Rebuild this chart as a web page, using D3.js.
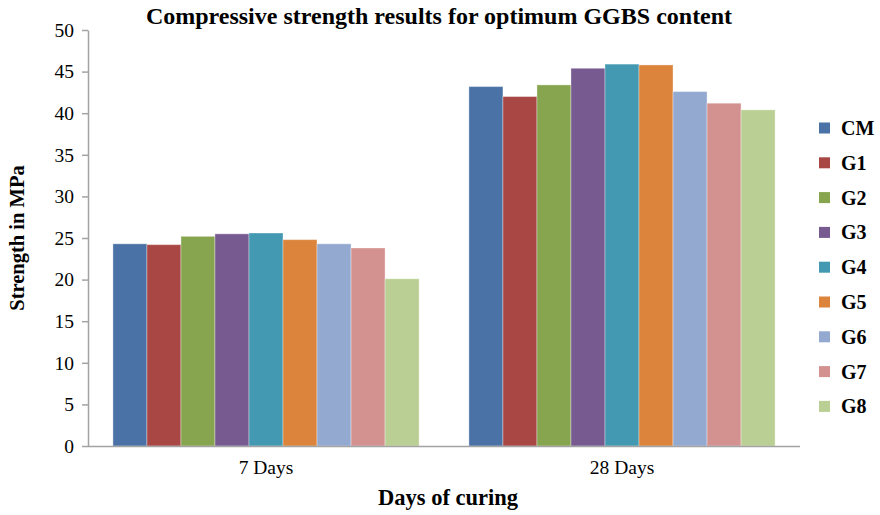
<!DOCTYPE html>
<html>
<head>
<meta charset="utf-8">
<script src="https://cdn.jsdelivr.net/npm/d3@7/dist/d3.min.js"></script>
<style>
  html, body { margin: 0; padding: 0; background: #fff; }
  svg { display: block; font-family: "Liberation Serif", "Times New Roman", serif; }
</style>
</head>
<body>
<svg id="chart" width="880" height="515"></svg>
<script>
// Curing ages on the x axis
const categories = ["7 Days", "28 Days"];
// Mix designations
const series = ["CM", "G1", "G2", "G3", "G4", "G5", "G6", "G7", "G8"];
// Compressive strength (MPa) per mix, at 7 and 28 days
const strength7 = [24.3, 24.2, 25.2, 25.5, 25.6, 24.8, 24.3, 23.8, 20.1];
const strength28 = [43.2, 42.0, 43.4, 45.4, 45.9, 45.8, 42.6, 41.2, 40.4];
const yTicks = [0, 5, 10, 15, 20, 25, 30, 35, 40, 45, 50];
const colors = ["#4a72a6", "#a84744", "#87a54f", "#765a90", "#4399b1",
                "#dc843c", "#93a9d0", "#d39190", "#b9cf93"];

const values = [strength7, strength28];
const svg = d3.select("#chart");
const plot = { left: 88, right: 800, top: 30, bottom: 446 };
const axisColor = "#a3a3a3";

const x0 = d3.scaleBand().domain(categories)
  .range([plot.left, plot.right]).paddingInner(0.14).paddingOuter(0.07);
const x1 = d3.scaleBand().domain(series).range([0, x0.bandwidth()]).padding(0);
const y = d3.scaleLinear().domain([0, 50]).range([plot.bottom, plot.top]);
const color = d3.scaleOrdinal().domain(series).range(colors);

// Bars
const groups = svg.append("g").selectAll("g")
  .data(categories).join("g")
  .attr("transform", d => `translate(${x0(d)},0)`);
groups.selectAll("rect")
  .data((c, ci) => series.map((s, si) => ({ s, v: values[ci][si] })))
  .join("rect")
  .attr("x", d => x1(d.s))
  .attr("y", d => y(d.v))
  .attr("width", x1.bandwidth())
  .attr("height", d => y(0) - y(d.v))
  .attr("fill", d => color(d.s))
  .attr("stroke", "rgba(255,255,255,0.35)")
  .attr("stroke-width", 1);

// Y axis
const yAxis = svg.append("g")
  .attr("transform", `translate(${plot.left},0)`)
  .call(d3.axisLeft(y).tickValues(yTicks).tickSize(6).tickPadding(8).tickSizeOuter(0));
yAxis.select(".domain").attr("stroke", axisColor).attr("stroke-width", 1.5);
yAxis.selectAll(".tick line").attr("stroke", axisColor).attr("stroke-width", 1.5);
yAxis.selectAll(".tick text")
  .attr("fill", "#000").style("font-size", "19.5px")
  .style("font-family", "'Liberation Serif', serif");

// X axis
const xAxis = svg.append("g")
  .attr("transform", `translate(0,${plot.bottom})`)
  .call(d3.axisBottom(x0).tickSize(0).tickPadding(14).tickSizeOuter(0));
xAxis.select(".domain").attr("stroke", axisColor).attr("stroke-width", 1.5)
  .attr("d", `M${plot.left},0.5H${plot.right}`);
xAxis.selectAll(".tick text")
  .attr("fill", "#000").style("font-size", "19.5px")
  .style("font-family", "'Liberation Serif', serif");

// Titles
svg.append("text")
  .attr("x", 439).attr("y", 24)
  .attr("text-anchor", "middle")
  .style("font-size", "24px").style("font-weight", "bold")
  .text("Compressive strength results for optimum GGBS content");

svg.append("text")
  .attr("x", 448).attr("y", 505)
  .attr("text-anchor", "middle")
  .style("font-size", "22.5px").style("font-weight", "bold")
  .text("Days of curing");

svg.append("text")
  .attr("transform", "translate(24,238) rotate(-90)")
  .attr("text-anchor", "middle")
  .style("font-size", "20.5px").style("font-weight", "bold")
  .text("Strength in MPa");

// Legend
const legend = svg.append("g").attr("transform", "translate(819,128)");
const rows = legend.selectAll("g").data(series).join("g")
  .attr("transform", (d, i) => `translate(0,${i * 34.8})`);
rows.append("rect")
  .attr("x", 0).attr("y", -5.5).attr("width", 11).attr("height", 11)
  .attr("fill", d => color(d));
rows.append("text")
  .attr("x", 22).attr("y", 0).attr("dy", "0.35em")
  .style("font-size", "20px").style("font-weight", "bold")
  .text(d => d);
</script>
</body>
</html>
